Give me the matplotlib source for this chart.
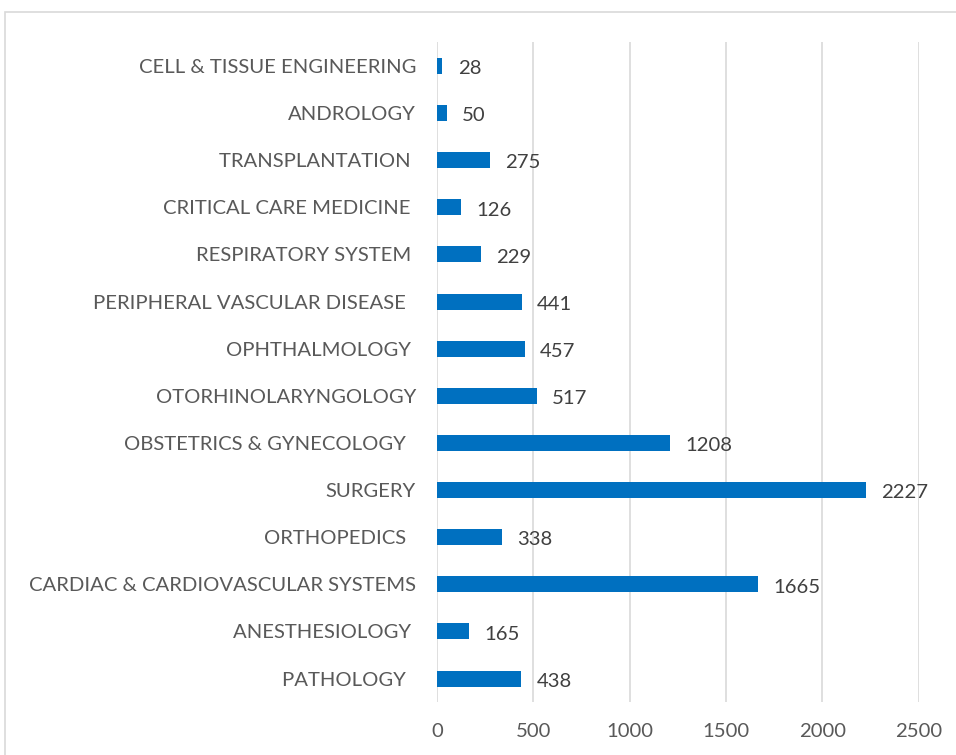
import matplotlib.pyplot as plt
from matplotlib.patches import Rectangle

plt.rcParams['font.family'] = ['Lato', 'DejaVu Sans']

categories = ['PATHOLOGY  ', 'ANESTHESIOLOGY ', 'CARDIAC & CARDIOVASCULAR SYSTEMS',
              'ORTHOPEDICS  ', 'SURGERY', 'OBSTETRICS & GYNECOLOGY  ',
              'OTORHINOLARYNGOLOGY', 'OPHTHALMOLOGY ', 'PERIPHERAL VASCULAR DISEASE  ',
              'RESPIRATORY SYSTEM ', 'CRITICAL CARE MEDICINE ', 'TRANSPLANTATION ',
              'ANDROLOGY', 'CELL & TISSUE ENGINEERING']
counts = [438, 165, 1665, 338, 2227, 1208, 517, 457, 441, 229, 126, 275, 50, 28]
xticks = [0, 500, 1000, 1500, 2000, 2500]

fig = plt.figure(figsize=(9.56, 7.55), dpi=100)
ax = fig.add_axes([0.457, 0.070, 0.504, 0.874])

ypos = range(len(categories))
ax.barh(ypos, counts, height=0.34, color='#0070C0', zorder=3)
for y, v in zip(ypos, counts):
    ax.annotate(str(v), (v, y), xytext=(11, -2), textcoords='offset points',
                ha='left', va='center', fontsize=14.6, color='#404040')

ax.set_xlim(0, 2500)
ax.set_ylim(-0.5, len(categories) - 0.5)
ax.set_xticks(xticks)
ax.set_yticks(list(ypos))
ax.set_yticklabels(categories)
ax.tick_params(axis='x', length=0, pad=15, labelsize=14.6, labelcolor='#595959')
ax.tick_params(axis='y', length=0, pad=15, labelsize=14.6, labelcolor='#595959')
ax.grid(axis='x', color='#D9D9D9', linewidth=1.2, zorder=0)
for s in ax.spines.values():
    s.set_visible(False)

# outer chart frame, cut off on the right and bottom
fig.patches.append(Rectangle((5 / 956, -0.05), 1.1, 1 - 12 / 755 + 0.05,
                             transform=fig.transFigure, fill=False,
                             edgecolor='#D9D9D9', linewidth=1.2))

fig.savefig('out.png', dpi=100)
